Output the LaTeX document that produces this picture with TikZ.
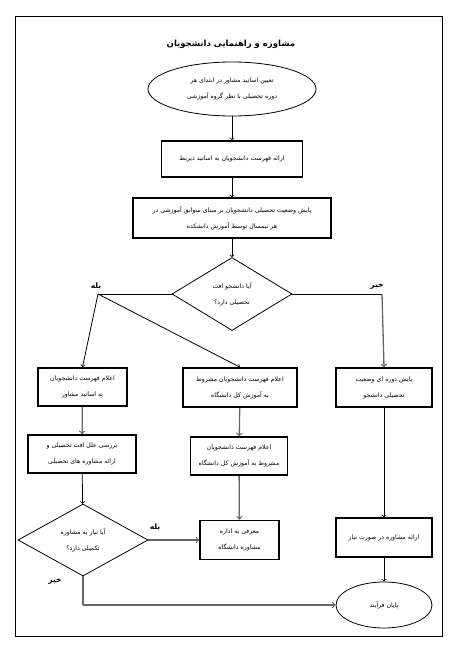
\documentclass[tikz,border=0pt]{standalone}
\usepackage{fontspec}
\usepackage{tikz}
\usetikzlibrary{shapes.geometric}
\newfontfamily\farsi[Script=Arabic]{DejaVu Sans}
\TeXXeTstate=1
\newcommand{\fa}[1]{\beginR #1\endR}

\begin{document}
\begin{tikzpicture}[x=1pt, y=-1pt,
	every node/.style={font=\farsi\fontsize{6.2}{16}\selectfont, align=center, inner sep=0pt},
	box/.style={rectangle, draw=black, line width=1.6pt},
	oval/.style={ellipse, draw=black, line width=0.8pt},
	dia/.style={diamond, draw=black, line width=0.8pt},
	lab/.style={font=\farsi\bfseries\fontsize{7.5}{8}\selectfont},
	line/.style={draw=black, line width=0.8pt},
	gline/.style={draw=black!60, line width=1.3pt}]
				\useasboundingbox (0,0) rectangle (456,653);
				\draw[line width=0.8pt] (15,16) rectangle (442,636);
				
				\node[font=\farsi\bfseries\fontsize{8.5}{9}\selectfont] (title) at (231,44){\fa{مشاوره و راهنمایی دانشجویان}};
				
				\node[oval, minimum width=168, minimum height=54] (st) at (232,89){\fa{تعیین اساتید مشاور در ابتدای هر}\\\fa{دوره تحصیلی با نظر گروه آموزشی}};
				\node[box, minimum width=141, minimum height=36] (b1) at (232,159){\fa{ارائه فهرست دانشجویان به اساتید ذیربط}};
				\node[box, minimum width=198, minimum height=40] (b2) at (232,218){\fa{پایش وضعیت تحصیلی دانشجویان بر مبنای سوابق آموزشی در}\\\fa{هر نیمسال توسط آموزش دانشکده}};
				\node[dia, minimum width=120, minimum height=73] (q1) at (232,294){\fa{آیا دانشجو افت}\\\fa{تحصیلی دارد؟}};
				
				\coordinate (jl) at (98,294);
				\coordinate (jr) at (382,294);
				\node[lab] (yes1) at (96,286){\fa{بله}};
				\node[lab] (no1) at (377,286){\fa{خیر}};
				
				\node[box, minimum width=89, minimum height=38] (l1) at (82.5,387){\fa{اعلام فهرست دانشجویان}\\\fa{به اساتید مشاور}};
				\node[box, minimum width=114, minimum height=39] (m1) at (240,387.5){\fa{اعلام فهرست دانشجویان مشروط}\\\fa{به آموزش کل دانشگاه}};
				\node[box, minimum width=96, minimum height=39] (r1) at (384,387.5){\fa{پایش دوره ای وضعیت}\\\fa{تحصیلی دانشجو}};
				
				\node[box, minimum width=108, minimum height=38] (l2) at (82,454){\fa{بررسی علل افت تحصیلی و}\\\fa{ارائه مشاوره های تحصیلی}};
				\node[box, minimum width=97, minimum height=38] (m2) at (239,456){\fa{اعلام فهرست دانشجویان}\\\fa{مشروط به آموزش کل دانشگاه}};
				
				\node[dia, minimum width=130, minimum height=72] (q2) at (83,540){\fa{آیا نیاز به مشاوره}\\\fa{تکمیلی دارد؟}};
				\node[box, minimum width=79, minimum height=39] (m3) at (239.5,540){\fa{معرفی به اداره}\\\fa{مشاوره دانشگاه}};
				\node[box, minimum width=96, minimum height=39] (r2) at (384,537.5){\fa{ارائه مشاوره در صورت نیاز}};
				\node[oval, minimum width=96, minimum height=46] (en) at (384,605){\fa{پایان فرآیند}};
				
				\node[lab] (yes2) at (155,527){\fa{بله}};
				\node[lab] (no2) at (55,581){\fa{خیر}};
				\coordinate (jb) at (83,605);
				
				\path[line] (st) edge[->] (b1);
				\path[line] (b1) edge[->] (b2);
				\path[line] (b2) edge[->] (q1);
				\path[line] (q1.west) edge (jl);
				\path[line] (jl) edge[->] (l1.north);
				\path[line] (jl) edge[->] (m1.north);
				\path[line] (q1.east) edge (jr);
				\path[gline] (jr) edge[->] (r1.north);
				\path[gline] (l1) edge[->] (l2);
				\path[gline] (m1) edge[->] (m2);
				\path[gline] (m2) edge[->] (m3);
				\path[line] (l2) edge[->] (q2);
				\path[gline] (q2.east) edge[->] (m3.west);
				\path[line] (r1) edge[->] (r2);
				\path[line] (r2) edge[->] (en);
				\path[gline] (q2.south) edge (jb);
				\path[gline] (jb) edge[->] (en.west);
\end{tikzpicture}
\end{document}
